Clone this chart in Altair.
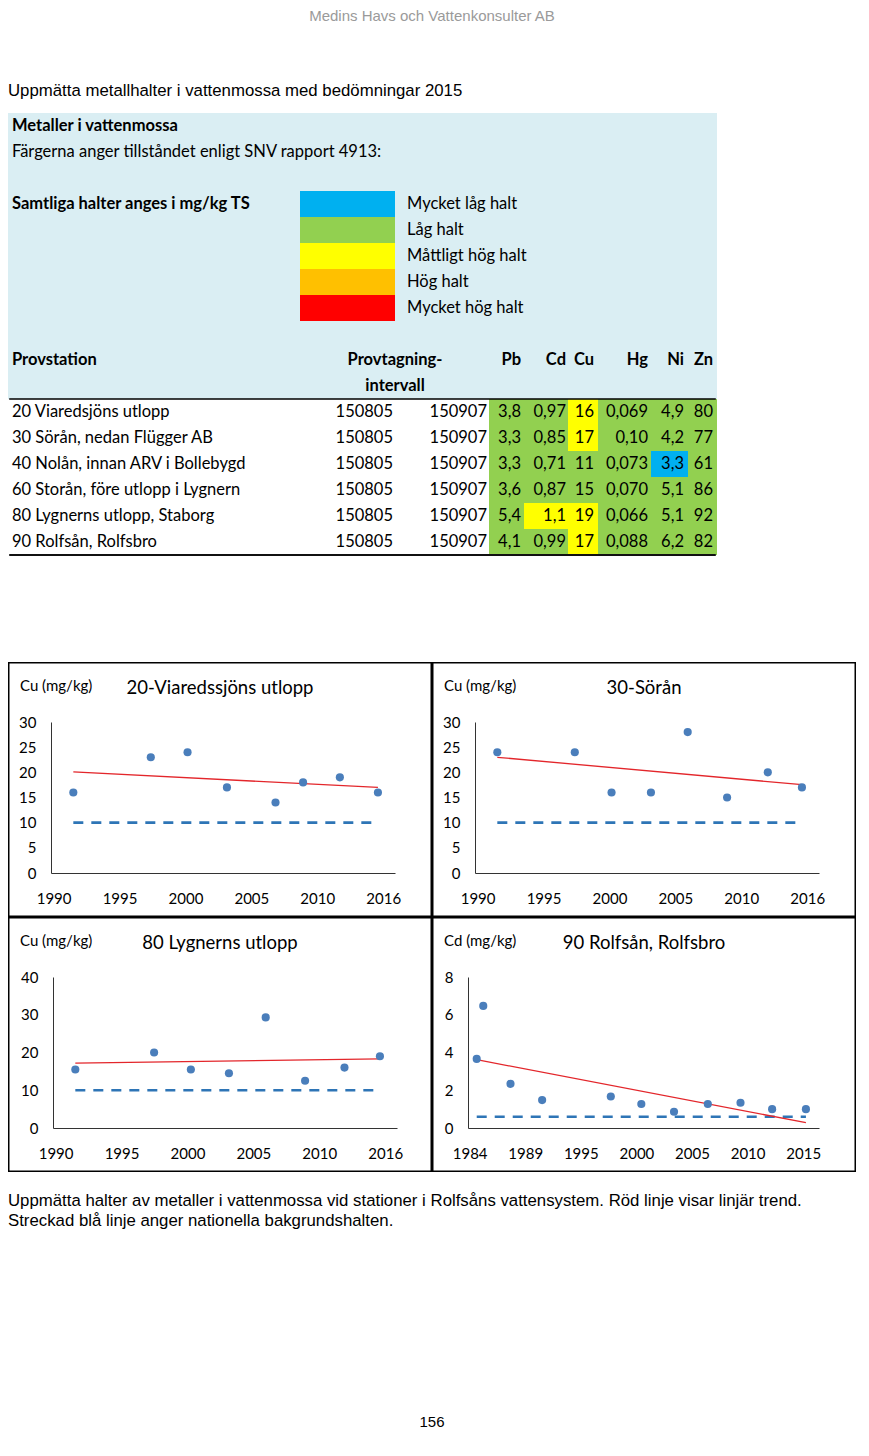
import altair as alt
import pandas as pd

# ---------------- data ----------------
PAGE_HEADER = "Medins Havs och Vattenkonsulter AB"
PAGE_TITLE = "Uppmätta metallhalter i vattenmossa med bedömningar 2015"
BOX_TITLE = "Metaller i vattenmossa"
BOX_SUB = "Färgerna anger tillståndet enligt SNV rapport 4913:"
BOX_UNIT = "Samtliga halter anges i mg/kg TS"
CLASS_LABELS = ["Mycket låg halt", "Låg halt", "Måttligt hög halt", "Hög halt", "Mycket hög halt"]
CLASS_COLORS = ["#00B0F0", "#92D050", "#FFFF00", "#FFC000", "#FF0000"]

COL_HEADERS = ["Provstation", "Provtagning-", "intervall"]
STATIONS = ["20 Viaredsjöns utlopp", "30 Sörån, nedan Flügger AB", "40 Nolån, innan ARV i Bollebygd",
            "60 Storån, före utlopp i Lygnern", "80 Lygnerns utlopp, Staborg", "90 Rolfsån, Rolfsbro"]
DATE_FROM = ["150805", "150805", "150805", "150805", "150805", "150805"]
DATE_TO = ["150907", "150907", "150907", "150907", "150907", "150907"]
METALS = ["Pb", "Cd", "Cu", "Hg", "Ni", "Zn"]
PB = ["3,8", "3,3", "3,3", "3,6", "5,4", "4,1"]
CD = ["0,97", "0,85", "0,71", "0,87", "1,1", "0,99"]
CU = ["16", "17", "11", "15", "19", "17"]
HG = ["0,069", "0,10", "0,073", "0,070", "0,066", "0,088"]
NI = ["4,9", "4,2", "3,3", "5,1", "5,1", "6,2"]
ZN = ["80", "77", "61", "86", "92", "82"]
# bedömning per cell: index into CLASS_LABELS
PB_CLASS = [1, 1, 1, 1, 1, 1]
CD_CLASS = [1, 1, 1, 1, 2, 1]
CU_CLASS = [2, 2, 1, 1, 2, 2]
HG_CLASS = [1, 1, 1, 1, 1, 1]
NI_CLASS = [1, 1, 0, 1, 1, 1]
ZN_CLASS = [1, 1, 1, 1, 1, 1]

# time series panels
P1_TITLE = "20-Viaredssjöns utlopp"
P1_YEARS = [1992.4, 1998.3, 2001.1, 2004.1, 2007.8, 2009.9, 2012.7, 2015.6]
P1_CU = [16, 23, 24, 17, 14, 18, 19, 16]

P2_TITLE = "30-Sörån"
P2_YEARS = [1992.4, 1998.3, 2001.1, 2004.1, 2006.9, 2009.9, 2013.0, 2015.6]
P2_CU = [24, 24, 16, 16, 28, 15, 20, 17]

P3_TITLE = "80 Lygnerns utlopp"
P3_YEARS = [1992.4, 1998.4, 2001.2, 2004.1, 2006.9, 2009.9, 2012.9, 2015.6]
P3_CU = [15.5, 20, 15.5, 14.5, 29.3, 12.5, 16, 19]

P4_TITLE = "90 Rolfsån, Rolfsbro"
P4_YEARS = [1985.5, 1986.1, 1988.6, 1991.5, 1997.8, 2000.6, 2003.6, 2006.7, 2009.7, 2012.6, 2015.7]
P4_CD = [3.66, 6.47, 2.34, 1.48, 1.67, 1.27, 0.86, 1.27, 1.34, 1.0, 1.0]

CU_BACKGROUND = 10
CD_BACKGROUND = 0.6
CU_LABEL = "Cu (mg/kg)"
CD_LABEL = "Cd (mg/kg)"

# axis tick positions (Excel date axis; labels show the year of each tick)
XTICKS_A = [1990.9, 1995.92, 2000.94, 2005.96, 2010.98, 2016.0]
XTICKS_B = [1984.85, 1989.95, 1995.05, 2000.15, 2005.25, 2010.35, 2015.45]

CAPTION_1 = "Uppmätta halter av metaller i vattenmossa vid stationer i Rolfsåns vattensystem. Röd linje visar linjär trend."
CAPTION_2 = "Streckad blå linje anger nationella bakgrundshalten."
PAGE_NO = "156"

# ---------------- layout / style ----------------
ARIAL = "Liberation Sans"
CAL = "Lato"
TBL_FS = 16.5
TBL_W = 709
N_LINES = 17
LINE_H = 26
GAP_BELOW_TABLE = 105
NAME_X = 4
LEG_BOX = (292, 387)
LEG_LABEL_X = 399
INTERVAL_CENTER_X = 387
DATE_RIGHT = [385, 479]
METAL_EDGES = [481, 516, 560, 590, 643, 680, 709]
METAL_RIGHT = [513, 558, 586, 640, 676, 705]
RULE_INSET = 1.2

PANEL_W, PANEL_H = 424, 255

# ---------------- header ----------------
head_df = pd.DataFrame({"t": [PAGE_HEADER]})
title_df = pd.DataFrame({"t": [PAGE_TITLE]})
header = alt.layer(
    alt.Chart(head_df).mark_text(font=ARIAL, fontSize=15, color="#9a9a9a", align="center", baseline="top")
    .encode(text="t:N", x=alt.value(424), y=alt.value(1)),
    alt.Chart(title_df).mark_text(font=ARIAL, fontSize=16.8, color="black", align="left", baseline="middle")
    .encode(text="t:N", x=alt.value(0), y=alt.value(83)),
).properties(width=848, height=105)

# ---------------- table ----------------
yscale = alt.Scale(domain=list(range(N_LINES)), range=[0, N_LINES * LINE_H], paddingInner=0, paddingOuter=0)
Y = alt.Y("line:O", scale=yscale, axis=None)
cscale = alt.Scale(domain=CLASS_LABELS, range=CLASS_COLORS)

bg_df = pd.DataFrame({"line": list(range(11))})
bg = alt.Chart(bg_df).mark_rect(color="#DAEEF3").encode(y=Y, x=alt.value(0), x2=alt.value(TBL_W))

leg_df = pd.DataFrame({"line": [3 + i for i in range(5)], "klass": CLASS_LABELS})
leg_rect = alt.Chart(leg_df).mark_rect().encode(
    y=Y, x=alt.value(LEG_BOX[0]), x2=alt.value(LEG_BOX[1]),
    color=alt.Color("klass:N", scale=cscale, legend=None))

vals = {"Pb": PB, "Cd": CD, "Cu": CU, "Hg": HG, "Ni": NI, "Zn": ZN}
clss = {"Pb": PB_CLASS, "Cd": CD_CLASS, "Cu": CU_CLASS, "Hg": HG_CLASS, "Ni": NI_CLASS, "Zn": ZN_CLASS}
cells = []
for j, m in enumerate(METALS):
    for i in range(len(STATIONS)):
        cells.append({"line": 11 + i, "metal": m, "klass": CLASS_LABELS[clss[m][i]],
                      "x0": METAL_EDGES[j], "x1": METAL_EDGES[j + 1], "xr": METAL_RIGHT[j],
                      "t": vals[m][i]})
cells_df = pd.DataFrame(cells)
cell_rect = alt.Chart(cells_df).mark_rect().encode(
    y=Y, x=alt.X("x0:Q", scale=None), x2="x1:Q",
    color=alt.Color("klass:N", scale=cscale, legend=None))

left_reg = pd.DataFrame(
    [{"line": 1, "x": NAME_X, "t": BOX_SUB}]
    + [{"line": 3 + i, "x": LEG_LABEL_X, "t": c} for i, c in enumerate(CLASS_LABELS)]
    + [{"line": 11 + i, "x": NAME_X, "t": s} for i, s in enumerate(STATIONS)])
left_bold = pd.DataFrame([
    {"line": 0, "x": NAME_X, "t": BOX_TITLE},
    {"line": 3, "x": NAME_X, "t": BOX_UNIT},
    {"line": 9, "x": NAME_X, "t": COL_HEADERS[0]},
])
center_bold = pd.DataFrame([
    {"line": 9, "x": INTERVAL_CENTER_X, "t": COL_HEADERS[1]},
    {"line": 10, "x": INTERVAL_CENTER_X, "t": COL_HEADERS[2]},
])
right_reg = pd.DataFrame(
    [{"line": 11 + i, "x": DATE_RIGHT[0], "t": d} for i, d in enumerate(DATE_FROM)]
    + [{"line": 11 + i, "x": DATE_RIGHT[1], "t": d} for i, d in enumerate(DATE_TO)]
    + [{"line": r["line"], "x": r["xr"], "t": r["t"]} for r in cells])
right_bold = pd.DataFrame([{"line": 9, "x": METAL_RIGHT[j], "t": m} for j, m in enumerate(METALS)])


def txt(df, align, weight):
    return alt.Chart(df).mark_text(font=CAL, fontSize=TBL_FS, fontWeight=weight, align=align,
                                   baseline="middle", color="black").encode(
        y=Y, x=alt.X("x:Q", scale=None), text="t:N")


rule_top = alt.Chart(pd.DataFrame({"line": [11]})).mark_rule(color="black", strokeWidth=1.3).encode(
    y=alt.Y("line:O", scale=yscale, axis=None, bandPosition=0),
    x=alt.value(RULE_INSET), x2=alt.value(TBL_W - RULE_INSET))
rule_bot = alt.Chart(pd.DataFrame({"line": [16]})).mark_rule(color="#111111", strokeWidth=2.2).encode(
    y=alt.Y("line:O", scale=yscale, axis=None, bandPosition=1),
    x=alt.value(RULE_INSET), x2=alt.value(TBL_W - RULE_INSET))

table = alt.layer(
    bg, leg_rect, cell_rect,
    txt(left_reg, "left", "normal"), txt(left_bold, "left", "bold"), txt(center_bold, "center", "bold"),
    txt(right_reg, "right", "normal"), txt(right_bold, "right", "bold"),
    rule_top, rule_bot,
).properties(width=TBL_W, height=N_LINES * LINE_H + 2 + GAP_BELOW_TABLE)


# ---------------- panels ----------------
def panel(title, ylab, years, values, bg_val, ymax, ystep, xdom, xticks, xrange):
    df = pd.DataFrame({"year": years, "value": values})
    y_top, y_bot = 60, 211
    xs = alt.Scale(domain=xdom, range=xrange, nice=False, zero=False)
    ys = alt.Scale(domain=[0, ymax], range=[y_bot, y_top], nice=False, zero=True)
    xax = alt.Axis(values=xticks, labelExpr="floor(datum.value)", ticks=False, tickSize=0, grid=False,
                   offset=y_bot - PANEL_H, labelPadding=18, labelFont=CAL, labelFontSize=15,
                   labelColor="black", domainColor="#333333", domainWidth=1, labelFlush=False,
                   labelOverlap=False, title=None)
    yax = alt.Axis(values=list(range(0, ymax + 1, ystep)), ticks=False, tickSize=0, grid=False,
                   offset=-xrange[0], labelPadding=15, labelFont=CAL, labelFontSize=15,
                   labelColor="black", domainColor="#333333", domainWidth=1, title=None)
    base = alt.Chart(df)
    frame = alt.Chart(pd.DataFrame({"t": [title]})).mark_rect(
        fill="transparent", stroke="black", strokeWidth=1.5).encode(
        x=alt.value(0.75), x2=alt.value(PANEL_W - 0.75), y=alt.value(0.75), y2=alt.value(PANEL_H - 0.75))
    dashed = base.mark_line(color="#2E75B6", strokeWidth=2.6, strokeDash=[10, 8]).encode(
        x=alt.X("year:Q", scale=xs, axis=xax), y=alt.datum(bg_val, scale=ys))
    trend = base.transform_regression("year", "value", method="linear").mark_line(
        color="#E3262B", strokeWidth=1.3).encode(x=alt.X("year:Q", scale=xs),
                                                 y=alt.Y("value:Q", scale=ys, axis=yax))
    pts = base.mark_circle(size=66, color="#4A7EBB", opacity=1).encode(
        x=alt.X("year:Q", scale=xs), y=alt.Y("value:Q", scale=ys))
    ttl = alt.Chart(pd.DataFrame({"t": [title]})).mark_text(
        font=CAL, fontSize=18.5, color="black", align="center", baseline="middle").encode(
        text="t:N", x=alt.value(PANEL_W / 2), y=alt.value(26))
    lab = alt.Chart(pd.DataFrame({"t": [ylab]})).mark_text(
        font=CAL, fontSize=15, color="black", align="left", baseline="middle").encode(
        text="t:N", x=alt.value(12), y=alt.value(24))
    return alt.layer(frame, dashed, trend, pts, ttl, lab).properties(width=PANEL_W, height=PANEL_H)


XDOM_A = [1990.7, 2016.9]
XDOM_B = [1984.7, 2016.9]
p1 = panel(P1_TITLE, CU_LABEL, P1_YEARS, P1_CU, CU_BACKGROUND, 30, 5, XDOM_A, XTICKS_A, [43, 387])
p2 = panel(P2_TITLE, CU_LABEL, P2_YEARS, P2_CU, CU_BACKGROUND, 30, 5, XDOM_A, XTICKS_A, [43, 387])
p3 = panel(P3_TITLE, CU_LABEL, P3_YEARS, P3_CU, CU_BACKGROUND, 40, 10, XDOM_A, XTICKS_A, [45, 389])
p4 = panel(P4_TITLE, CD_LABEL, P4_YEARS, P4_CD, CD_BACKGROUND, 8, 2, XDOM_B, XTICKS_B, [36, 387])

panels = alt.vconcat(alt.hconcat(p1, p2, spacing=0), alt.hconcat(p3, p4, spacing=0), spacing=0)

# ---------------- caption ----------------
cap_df = pd.DataFrame({"t": [CAPTION_1, CAPTION_2], "line": [0, 1]})
caption = alt.layer(
    alt.Chart(cap_df).mark_text(font=ARIAL, fontSize=16.8, color="black", align="left", baseline="middle")
    .encode(text="t:N", x=alt.value(0),
            y=alt.Y("line:O", scale=alt.Scale(type="point", domain=[0, 1], range=[29, 49], padding=0),
                    axis=None)),
    alt.Chart(pd.DataFrame({"t": [PAGE_NO]})).mark_text(font=ARIAL, fontSize=15, color="black",
                                                       align="center", baseline="middle")
    .encode(text="t:N", x=alt.value(424), y=alt.value(250)),
).properties(width=848, height=268)

chart = alt.vconcat(header, table, panels, caption, spacing=0).properties(
    padding=0, background="white"
).configure_view(strokeWidth=0).configure_concat(spacing=0)

chart.save("out.html", embed_options={"renderer": "svg", "actions": False})
